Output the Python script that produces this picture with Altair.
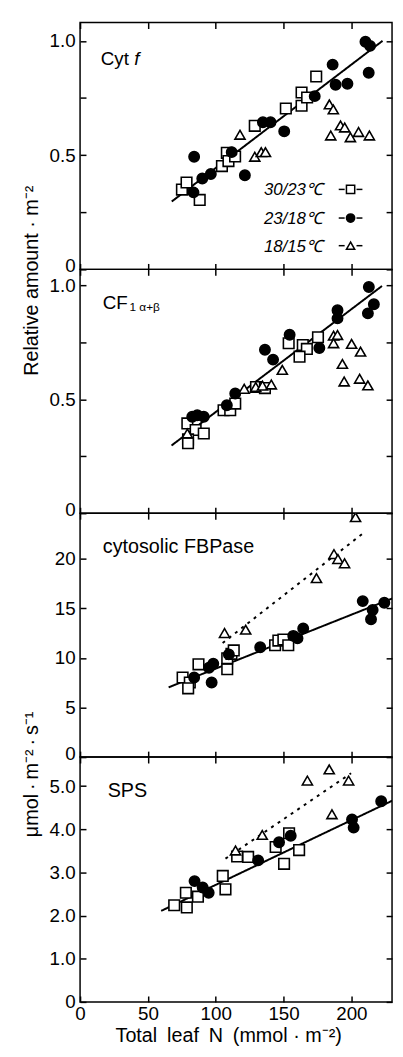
import altair as alt
import pandas as pd

CONDS = ["30/23℃", "23/18℃", "18/15℃"]

# ---------------- Panel 1: Cyt f ----------------
cytf_sq_x = [75.1, 78.5, 88.2, 104.6, 108.2, 109.4, 114.3, 128.8, 151.7, 163.3, 163.3, 167.4, 174.1]
cytf_sq_y = [0.349, 0.380, 0.304, 0.452, 0.510, 0.474, 0.494, 0.628, 0.704, 0.716, 0.774, 0.752, 0.844]
cytf_ci_x = [83.6, 84.1, 90.1, 96.4, 111.8, 121.5, 134.8, 140.4, 150.5, 173.0, 186.2, 188.4, 197.1, 210.4, 213.8, 212.8]
cytf_ci_y = [0.337, 0.493, 0.398, 0.417, 0.513, 0.412, 0.644, 0.644, 0.604, 0.758, 0.896, 0.808, 0.812, 0.996, 0.978, 0.860]
cytf_tr_x = [117.9, 128.8, 133.6, 136.7, 183.8, 186.7, 184.8, 192.0, 195.1, 199.3, 205.3, 213.3]
cytf_tr_y = [0.589, 0.493, 0.513, 0.513, 0.722, 0.700, 0.586, 0.630, 0.621, 0.578, 0.601, 0.586]
cytf_fit_x = [67.6, 223.0]
cytf_fit_y = [0.297, 1.0]

# ---------------- Panel 2: CF1 alpha+beta ----------------
cf1_sq_x = [79.1, 85.2, 91.2, 79.6, 79.6, 105.8, 110.7, 114.4, 129.7, 136.3, 153.8, 164.2, 167.2, 161.8, 175.4]
cf1_sq_y = [0.394, 0.365, 0.350, 0.324, 0.307, 0.452, 0.452, 0.481, 0.554, 0.549, 0.746, 0.738, 0.721, 0.687, 0.772]
cf1_ci_x = [82.7, 86.4, 91.2, 108.2, 114.4, 136.3, 142.3, 154.5, 176.4, 189.8, 189.8, 212.9, 216.6, 212.2]
cf1_ci_y = [0.423, 0.430, 0.423, 0.474, 0.525, 0.717, 0.674, 0.783, 0.725, 0.891, 0.855, 0.993, 0.917, 0.877]
cf1_tr_x = [79.1, 121.0, 129.5, 134.5, 141.0, 149.1, 186.9, 189.8, 186.9, 200.2, 206.8, 193.4, 194.7, 206.1, 212.2]
cf1_tr_y = [0.350, 0.546, 0.554, 0.560, 0.565, 0.629, 0.779, 0.782, 0.746, 0.743, 0.709, 0.655, 0.578, 0.590, 0.561]
cf1_fit_x = [67.4, 222.6]
cf1_fit_y = [0.297, 0.997]

# ---------------- Panel 3: cytosolic FBPase ----------------
fbp_sq_x = [75.6, 80.9, 79.7, 87.3, 108.5, 108.5, 111.6, 113.3, 143.8, 146.2, 149.9, 153.5]
fbp_sq_y = [8.02, 7.52, 6.93, 9.35, 8.86, 9.95, 10.41, 10.75, 11.27, 11.74, 11.84, 11.27]
fbp_ci_x = [84.1, 95.0, 98.2, 97.0, 109.7, 132.8, 157.2, 160.3, 164.5, 208.4, 215.7, 214.5, 224.3]
fbp_ci_y = [8.02, 9.01, 9.41, 7.52, 10.35, 11.07, 12.22, 11.97, 12.97, 15.72, 14.83, 13.89, 15.55]
fbp_tr_x = [106.5, 122.1, 174.3, 187.2, 190.1, 195.0, 203.1]
fbp_tr_y = [12.5, 12.84, 18.04, 20.46, 19.96, 19.53, 24.18]
fbp_fit_x = [65.3, 230.0]
fbp_fit_y = [7.03, 15.98]
fbp_fit15_x = [105.1, 209.9]
fbp_fit15_y = [11.5, 22.69]

# ---------------- Panel 4: SPS ----------------
sps_sq_x = [69.4, 78.0, 78.7, 86.9, 105.2, 107.2, 115.8, 123.9, 144.2, 154.1, 150.4, 161.5]
sps_sq_y = [2.24, 2.53, 2.19, 2.44, 2.92, 2.61, 3.37, 3.36, 3.59, 3.91, 3.20, 3.52]
sps_ci_x = [84.4, 90.4, 94.8, 131.3, 146.7, 155.3, 200.5, 201.7, 222.0]
sps_ci_y = [2.80, 2.65, 2.53, 3.28, 3.70, 3.85, 4.23, 4.04, 4.65]
sps_tr_x = [114.6, 134.3, 167.6, 183.7, 198.0, 185.7]
sps_tr_y = [3.51, 3.87, 5.13, 5.39, 5.13, 4.35]
sps_fit_x = [59.8, 231.9]
sps_fit_y = [2.11, 4.69]
sps_fit15_x = [107.2, 199.8]
sps_fit15_y = [3.32, 5.30]

X_TICKS = [0, 50, 100, 150, 200]
FONT = "Liberation Sans"
W = 316


def pts_df(sets):
    rows = []
    for cond, xs, ys in sets:
        for a, b in zip(xs, ys):
            rows.append({"N": a, "v": b, "cond": cond})
    return pd.DataFrame(rows)


def fits_df(sets):
    rows = []
    for name, xs, ys in sets:
        for a, b in zip(xs, ys):
            rows.append({"N": a, "v": b, "fit": name})
    return pd.DataFrame(rows)


ONE = pd.DataFrame({"k": [0]})


def txt(s, x, y, size=19, style="normal", align="left"):
    return alt.Chart(ONE).mark_text(text=s, align=align, baseline="alphabetic", fontSize=size,
                                    font=FONT, fontStyle=style, color="black").encode(
        x=alt.value(x), y=alt.value(y))


def panel(pts, fits, ydom, yvals, ylabel_expr, height, ytitle=None, title_y=None,
          bottom_labels=False, annotations=(), raise_zero=True):
    xsc = alt.Scale(domain=[0, 230], nice=False, zero=False)
    ysc = alt.Scale(domain=ydom, nice=False, zero=False)
    common = dict(tickSize=6, offset=-6, domain=False, grid=False, tickColor="black", tickWidth=1.5)
    left = dict(orient="left", values=yvals, labelExpr=ylabel_expr, labelPadding=5,
                labelFlush=False, labelOverlap=False, labelFontSize=19, **common)
    if raise_zero:
        left["labelOffset"] = {"condition": {"test": "datum.value == 0", "value": -4}, "value": 0}
    if ytitle:
        left.update(title=ytitle, titleX=-55, titleY=title_y, titleAngle=270, titleAlign="center",
                    titleBaseline="middle", titleFontSize=20)
    else:
        left.update(title=None)
    bottom = dict(orient="bottom", values=X_TICKS, labelFlush=False, labelOverlap=False, **common)
    if bottom_labels:
        bottom.update(labels=True, labelFontSize=19, labelPadding=3,
                      title="Total\u2002leaf\u2002N\u2002(mmol · m⁻²)", titlePadding=2, titleFontSize=20,
                      titleX=150)
    else:
        bottom.update(labels=False, title=None)
    right = dict(orient="right", values=yvals, labels=False, title=None, **common)
    top = dict(orient="top", values=X_TICKS, labels=False, title=None, **common)

    lines = alt.Chart(fits).mark_line(color="black", strokeWidth=2, clip=True).encode(
        x=alt.X("N:Q", scale=xsc, axis=alt.Axis(**top)),
        y=alt.Y("v:Q", scale=ysc, axis=alt.Axis(**right)),
        detail="fit:N",
        strokeDash=alt.StrokeDash("fit:N", scale=alt.Scale(domain=["solid", "dotted"],
                                                           range=[[1, 0], [3, 5]]), legend=None),
    )
    points = alt.Chart(pts).mark_point(stroke="black", strokeWidth=1.6, opacity=1,
                                       fillOpacity=1, strokeOpacity=1, clip=True).encode(
        x=alt.X("N:Q", scale=xsc, axis=alt.Axis(**bottom)),
        y=alt.Y("v:Q", scale=ysc, axis=alt.Axis(**left)),
        shape=alt.Shape("cond:N", scale=alt.Scale(domain=CONDS, range=["square", "circle", "triangle-up"]),
                        legend=None),
        fill=alt.Fill("cond:N", scale=alt.Scale(domain=CONDS, range=["white", "black", "white"]),
                      legend=None),
        size=alt.Size("cond:N", scale=alt.Scale(domain=CONDS, range=[115, 105, 90]), legend=None),
    )
    return alt.layer(lines, points, *annotations).resolve_axis(
        x="independent", y="independent").properties(width=W, height=height)


def legend_row(label, shape, fill, yc):
    return [
        txt(label, 246, yc + 6, size=17, style="italic", align="right"),
        alt.Chart(ONE).mark_rule(color="black", strokeWidth=1.5).encode(
            x=alt.value(262), x2=alt.value(268), y=alt.value(yc)),
        alt.Chart(ONE).mark_rule(color="black", strokeWidth=1.5).encode(
            x=alt.value(280), x2=alt.value(286), y=alt.value(yc)),
        alt.Chart(ONE).mark_point(shape=shape, size=70, fill=fill, stroke="black", strokeWidth=1.5,
                                  opacity=1, fillOpacity=1).encode(x=alt.value(274), y=alt.value(yc)),
    ]


ann1 = [txt("Cyt", 21, 43), txt("f", 55, 43, style="italic")]
ann1 += legend_row(CONDS[0], "square", "white", 169)
ann1 += legend_row(CONDS[1], "circle", "black", 198)
ann1 += legend_row(CONDS[2], "triangle-up", "white", 226)

ann2 = [txt("CF", 23, 40), txt("1 α+β", 50, 42, size=12)]
ann3 = [txt("cytosolic FBPase", 23, 40, size=20)]
ann4 = [txt("SPS", 28, 40, size=20)]

half_expr = "datum.value == 0 ? '0' : (datum.value == 0.5 || datum.value == 1) ? format(datum.value, '.1f') : ''"

p1 = panel(
    pts_df([(CONDS[0], cytf_sq_x, cytf_sq_y), (CONDS[1], cytf_ci_x, cytf_ci_y), (CONDS[2], cytf_tr_x, cytf_tr_y)]),
    fits_df([("solid", cytf_fit_x, cytf_fit_y)]),
    [0, 1.08], [0, 0.25, 0.5, 0.75, 1.0], half_expr, 250,
    ytitle="Relative amount · m⁻²", title_y=261, annotations=ann1)

p2 = panel(
    pts_df([(CONDS[0], cf1_sq_x, cf1_sq_y), (CONDS[1], cf1_ci_x, cf1_ci_y), (CONDS[2], cf1_tr_x, cf1_tr_y)]),
    fits_df([("solid", cf1_fit_x, cf1_fit_y)]),
    [0, 1.07], [0, 0.25, 0.5, 0.75, 1.0], half_expr, 247, annotations=ann2)

p3 = panel(
    pts_df([(CONDS[0], fbp_sq_x, fbp_sq_y), (CONDS[1], fbp_ci_x, fbp_ci_y), (CONDS[2], fbp_tr_x, fbp_tr_y)]),
    fits_df([("solid", fbp_fit_x, fbp_fit_y), ("dotted", fbp_fit15_x, fbp_fit15_y)]),
    [0, 24.58], [0, 5, 10, 15, 20], "format(datum.value, 'd')", 247,
    ytitle="μmol\u2009·\u2009m⁻²\u2009·\u2009s⁻¹", title_y=264, annotations=ann3)

p4 = panel(
    pts_df([(CONDS[0], sps_sq_x, sps_sq_y), (CONDS[1], sps_ci_x, sps_ci_y), (CONDS[2], sps_tr_x, sps_tr_y)]),
    fits_df([("solid", sps_fit_x, sps_fit_y), ("dotted", sps_fit15_x, sps_fit15_y)]),
    [0, 5.675], [0, 1, 2, 3, 4, 5], "datum.value == 0 ? '0' : format(datum.value, '.1f')", 248,
    bottom_labels=True, annotations=ann4, raise_zero=False)

chart = alt.vconcat(p1, p2, p3, p4, spacing=0, bounds="flush").properties(
    padding={"left": 13, "top": 6, "right": 1, "bottom": 0}, background="white"
).configure(font=FONT).configure_view(stroke="black", strokeWidth=1.5).configure_axis(
    labelColor="black", titleColor="black", titleFontWeight="normal", labelFont=FONT, titleFont=FONT)

chart.save("out.html", embed_options={"renderer": "svg", "actions": False})
